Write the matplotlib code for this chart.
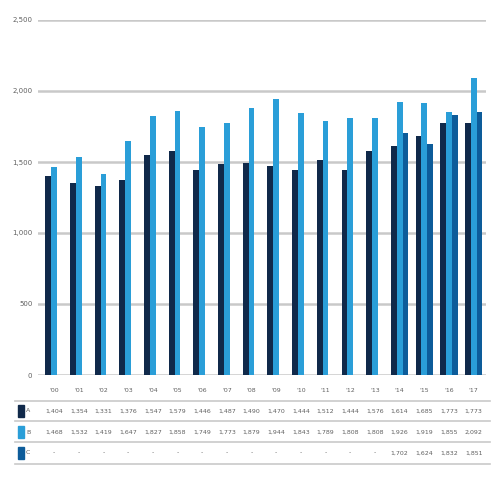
import matplotlib
matplotlib.use("Agg")
import matplotlib.pyplot as plt
from matplotlib.transforms import blended_transform_factory
from matplotlib.lines import Line2D
from matplotlib.patches import Rectangle

categories = ["'00", "'01", "'02", "'03", "'04", "'05", "'06", "'07", "'08",
              "'09", "'10", "'11", "'12", "'13", "'14", "'15", "'16", "'17"]
series_names = ["A", "B", "C"]
s1 = [1404, 1354, 1331, 1376, 1547, 1579, 1446, 1487, 1490,
      1470, 1444, 1512, 1444, 1576, 1614, 1685, 1773, 1773]
s2 = [1468, 1532, 1419, 1647, 1827, 1858, 1749, 1773, 1879,
      1944, 1843, 1789, 1808, 1808, 1926, 1919, 1855, 2092]
s3 = [0, 0, 0, 0, 0, 0, 0, 0, 0, 0, 0, 0, 0, 0, 1702, 1624, 1832, 1851]
yticks = [0, 500, 1000, 1500, 2000, 2500]

colors = ["#10294a", "#2a9ed8", "#0d5c9a"]
grid_c = "#c9c9c9"
text_c = "#606060"

fig = plt.figure(figsize=(5, 5), dpi=100)
ax = fig.add_axes([0.076, 0.25, 0.896, 0.71])

n = len(categories)
x = list(range(n))
w = 0.235
for i, (vals, c) in enumerate(zip([s1, s2, s3], colors)):
    ax.bar([xi + (i - 1) * w for xi in x], vals, width=w, color=c, zorder=3)

ax.set_xlim(-0.65, n - 0.5)
ax.set_ylim(0, 2500)
ax.set_yticks(yticks)
ax.set_yticklabels(["{:,}".format(v) for v in yticks], fontsize=5, color=text_c)
ax.set_xticks([])
ax.tick_params(axis="y", length=0, pad=4)
for s in ax.spines.values():
    s.set_visible(False)
ax.yaxis.grid(True, color=grid_c, linewidth=1.8, zorder=0)

tr = blended_transform_factory(ax.transData, fig.transFigure)

def fy(px):
    return 1 - px / 500.0

# category labels
for xi, lab in zip(x, categories):
    ax.text(xi, fy(391), lab, transform=tr, ha="center", va="center",
            fontsize=4.5, color=text_c, clip_on=False)

# table lines
for py in [401, 421, 442, 464]:
    fig.add_artist(Line2D([0.03, 0.98], [fy(py), fy(py)], color=grid_c,
                          linewidth=1.2, transform=fig.transFigure))

rows_y = [411, 432, 453]
for vals, c, name, py in zip([s1, s2, s3], colors, series_names, rows_y):
    fig.add_artist(Rectangle((0.036, fy(py) - 0.012), 0.011, 0.024,
                             color=c, transform=fig.transFigure))
    fig.text(0.052, fy(py), name, ha="left", va="center", fontsize=4.5,
             color=text_c)
    for xi, v in zip(x, vals):
        lab = "{:,}".format(v) if v else "-"
        ax.text(xi, fy(py), lab, transform=tr, ha="center", va="center",
                fontsize=4.5, color=text_c, clip_on=False)

fig.savefig("out.png", dpi=100, facecolor="white")
